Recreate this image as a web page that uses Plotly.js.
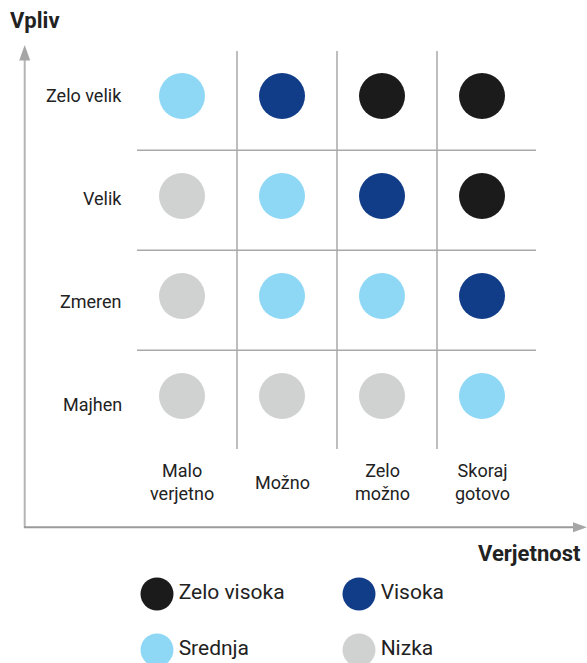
<!DOCTYPE html>
<html>
<head>
<meta charset="utf-8">
<script src="https://cdn.plot.ly/plotly-3.0.1.min.js"></script>
<style>html,body{margin:0;padding:0;background:#fff;}#chart{width:587px;height:663px;}</style>
</head>
<body>
<div id="chart"></div>
<script>
// ---- data ----
var probabilityLabels = ["Malo<br>verjetno", "Možno", "Zelo<br>možno", "Skoraj<br>gotovo"];
var impactLabels = ["Majhen", "Zmeren", "Velik", "Zelo velik"]; // bottom to top
var riskLevels = ["Zelo visoka", "Visoka", "Srednja", "Nizka"];
var riskColors = ["#1b1b1b", "#113c88", "#8fd8f5", "#d0d1d1"];
// risk level per cell: rows = impact (bottom to top), columns = probability
var riskMajhen   = ["Nizka", "Nizka", "Nizka", "Srednja"];
var riskZmeren   = ["Nizka", "Srednja", "Srednja", "Visoka"];
var riskVelik    = ["Nizka", "Srednja", "Visoka", "Zelo visoka"];
var riskZeloVelik= ["Srednja", "Visoka", "Zelo visoka", "Zelo visoka"];
var riskMatrix = [riskMajhen, riskZmeren, riskVelik, riskZeloVelik];
var xTitle = "Verjetnost";
var yTitle = "Vpliv";

// ---- layout helpers ----
var W = 587, H = 663;
function px(x){ return x / W; }
function py(y){ return 1 - y / H; }
var FONT = "Roboto, 'Noto Sans', sans-serif";
var TXT = "#222222";

var traces = [];
riskLevels.forEach(function(level, li){
  var xs = [], ys = [];
  riskMatrix.forEach(function(row, ri){
    row.forEach(function(v, ci){ if (v === level){ xs.push(ci); ys.push(ri); } });
  });
  traces.push({
    type: "scatter", mode: "markers", x: xs, y: ys, xaxis: "x", yaxis: "y",
    name: level, showlegend: false, hoverinfo: "skip",
    marker: {size: 46, color: riskColors[li], line: {width: 0}}
  });
});

// custom legend on a pixel axis
var legX = [], legY = [];
riskLevels.forEach(function(l, i){
  legX.push(157 + (i % 2) * 202);
  legY.push(594 + Math.floor(i / 2) * 56);
});
traces.push({
  type: "scatter", mode: "markers+text", x: legX, y: legY, xaxis: "x2", yaxis: "y2",
  text: riskLevels, textposition: "middle right", showlegend: false, hoverinfo: "skip",
  textfont: {family: FONT, size: 21, color: TXT},
  marker: {size: 33, color: riskColors, line: {width: 0}}
});

var xr = [-0.45, 3.55], yr = [-0.53, 3.45];
var shapes = [];
var gridColor = "#a9a9a9";
for (var i = 0; i < probabilityLabels.length - 1; i++){
  shapes.push({type: "line", xref: "x", yref: "y", x0: i + 0.55, x1: i + 0.55, y0: yr[0], y1: yr[1],
    line: {color: gridColor, width: 1.5}});
}
for (var j = 0; j < impactLabels.length - 1; j++){
  shapes.push({type: "line", xref: "x", yref: "y", x0: xr[0], x1: xr[1] - 0.01, y0: j + 0.457, y1: j + 0.457,
    line: {color: gridColor, width: 1.5}});
}
// axis arrows
var arrowColor = "#a6a6a6";
shapes.push({type: "line", xref: "paper", yref: "paper", x0: px(24.7), x1: px(24.7), y0: py(527.5), y1: py(58),
  line: {color: "#b5b5b5", width: 2}});
shapes.push({type: "path", xref: "paper", yref: "paper",
  path: "M" + px(19.2) + "," + py(60.5) + " L" + px(24.7) + "," + py(45) + " L" + px(30.2) + "," + py(60.5) + " Z",
  fillcolor: arrowColor, line: {width: 0}});
shapes.push({type: "line", xref: "paper", yref: "paper", x0: px(24), x1: px(576), y0: py(527.3), y1: py(527.3),
  line: {color: "#9a9a9a", width: 2}});
shapes.push({type: "path", xref: "paper", yref: "paper",
  path: "M" + px(573) + "," + py(522.3) + " L" + px(587) + "," + py(527.3) + " L" + px(573) + "," + py(532.3) + " Z",
  fillcolor: arrowColor, line: {width: 0}});

var annotations = [];
probabilityLabels.forEach(function(lab, i){
  annotations.push({xref: "x", yref: "paper", x: i, y: py(482), text: lab, showarrow: false,
    xanchor: "center", yanchor: "middle", align: "center",
    font: {family: FONT, size: 18, color: TXT}});
});
// impact labels (slightly wider spacing than the grid rows, as in the original)
impactLabels.forEach(function(lab, i){
  var n = impactLabels.length - 1 - i;
  annotations.push({xref: "paper", yref: "paper", x: px(123.5), y: py(95.5 + n * 103), text: lab, showarrow: false,
    xanchor: "right", yanchor: "middle", align: "right",
    font: {family: FONT, size: 18, color: TXT}});
});
annotations.push({xref: "paper", yref: "paper", x: px(7.5), y: py(20.5), text: "<b>" + yTitle + "</b>",
  showarrow: false, xanchor: "left", yanchor: "middle", font: {family: FONT, size: 22, color: TXT}});
annotations.push({xref: "paper", yref: "paper", x: px(583), y: py(553), text: "<b>" + xTitle + "</b>",
  showarrow: false, xanchor: "right", yanchor: "middle", font: {family: FONT, size: 22, color: TXT}});

var layout = {
  width: W, height: H, margin: {l: 0, r: 0, t: 0, b: 0},
  paper_bgcolor: "#ffffff", plot_bgcolor: "rgba(0,0,0,0)",
  showlegend: false,
  xaxis: {domain: [px(137), px(537)], range: xr, showgrid: false, zeroline: false, showline: false,
    showticklabels: false, ticks: "", fixedrange: true},
  yaxis: {domain: [py(449), py(51)], range: yr, showgrid: false, zeroline: false, showline: false,
    showticklabels: false, ticks: "", fixedrange: true},
  xaxis2: {domain: [0, 1], range: [0, W], visible: false, fixedrange: true, anchor: "y2"},
  yaxis2: {domain: [0, 1], range: [H, 0], visible: false, fixedrange: true, anchor: "x2"},
  shapes: shapes,
  annotations: annotations
};

Plotly.newPlot("chart", traces, layout, {displayModeBar: false, staticPlot: true});
</script>
</body>
</html>
